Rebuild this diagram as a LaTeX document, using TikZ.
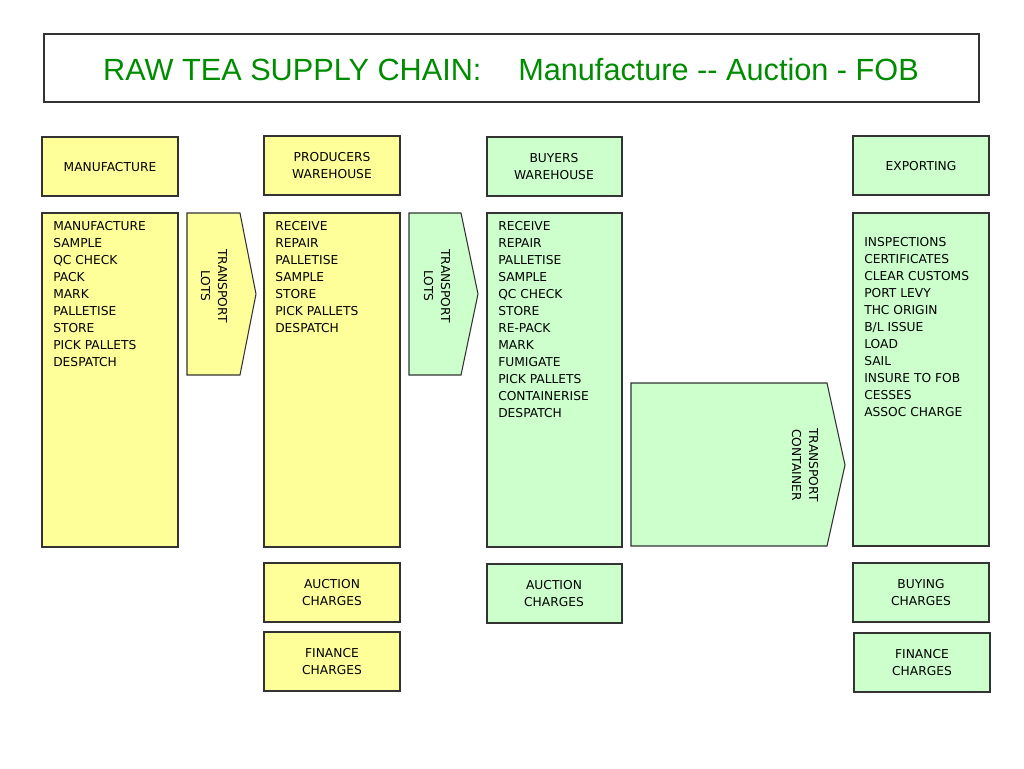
\documentclass[tikz,border=0pt]{standalone}
\usepackage{fontspec}
\setmainfont{DejaVu Sans}
\newfontfamily\titlefont{Liberation Sans}
\begin{document}
\begin{tikzpicture}[x=0.75pt,y=-0.75pt,
  box/.style={draw=black!80,line width=0.8pt},
  yel/.style={box,fill={rgb,255:red,255;green,255;blue,153}},
  grn/.style={box,fill={rgb,255:red,204;green,255;blue,204}},
  lbl/.style={font=\fontsize{9.2}{12.75}\selectfont,align=center,inner sep=0pt},
  lst/.style={font=\fontsize{9.2}{12.75}\selectfont,align=left,anchor=north west,inner sep=0pt}]
\useasboundingbox (0,0) rectangle (1024,768);
\draw[box] (44,34) rectangle (979,102);
\node[font=\titlefont\fontsize{23}{26}\selectfont,text={rgb,255:red,0;green,140;blue,0}] (title) at (511,70) {RAW TEA SUPPLY CHAIN:\hspace{1.2em}Manufacture -- Auction - FOB};
% column 1
\draw[yel] (42,137) rectangle (178,196); \node[lbl] (h1) at (110,167) {MANUFACTURE};
\draw[yel] (42,213) rectangle (178,547);
\node[lst] (l1) at (53,221) {MANUFACTURE\\SAMPLE\\QC CHECK\\PACK\\MARK\\PALLETISE\\STORE\\PICK PALLETS\\DESPATCH};
\draw[yel] (187,213) -- (240,213) -- (256,294) -- (240,375) -- (187,375) -- cycle;
\node[lbl,rotate=-90] (t1) at (214,286) {TRANSPORT\\LOTS};
% column 2
\draw[yel] (264,136) rectangle (400,195); \node[lbl] (h2) at (332,166) {PRODUCERS\\WAREHOUSE};
\draw[yel] (264,213) rectangle (400,547);
\node[lst] (l2) at (275,221) {RECEIVE\\REPAIR\\PALLETISE\\SAMPLE\\STORE\\PICK PALLETS\\DESPATCH};
\draw[yel] (264,563) rectangle (400,622); \node[lbl] (a2) at (332,593) {AUCTION\\CHARGES};
\draw[yel] (264,632) rectangle (400,691); \node[lbl] (f2) at (332,662) {FINANCE\\CHARGES};
\draw[grn] (409,213) -- (461,213) -- (478,294) -- (461,375) -- (409,375) -- cycle;
\node[lbl,rotate=-90] (t2) at (437,286) {TRANSPORT\\LOTS};
% column 3
\draw[grn] (487,137) rectangle (622,196); \node[lbl] (h3) at (554,167) {BUYERS\\WAREHOUSE};
\draw[grn] (487,213) rectangle (622,547);
\node[lst] (l3) at (498,221) {RECEIVE\\REPAIR\\PALLETISE\\SAMPLE\\QC CHECK\\STORE\\RE-PACK\\MARK\\FUMIGATE\\PICK PALLETS\\CONTAINERISE\\DESPATCH};
\draw[grn] (487,564) rectangle (622,623); \node[lbl] (a3) at (554,594) {AUCTION\\CHARGES};
\draw[grn] (631,383) -- (827,383) -- (845,465) -- (827,546) -- (631,546) -- cycle;
\node[lbl,rotate=-90] (t3) at (805,465) {TRANSPORT\\CONTAINER};
% column 4
\draw[grn] (853,136) rectangle (989,195); \node[lbl] (h4) at (921,166) {EXPORTING};
\draw[grn] (853,213) rectangle (989,546);
\node[lst] (l4) at (864,237) {INSPECTIONS\\CERTIFICATES\\CLEAR CUSTOMS\\PORT LEVY\\THC ORIGIN\\B/L ISSUE\\LOAD\\SAIL\\INSURE TO FOB\\CESSES\\ASSOC CHARGE};
\draw[grn] (853,563) rectangle (989,622); \node[lbl] (b4) at (921,593) {BUYING\\CHARGES};
\draw[grn] (854,633) rectangle (990,692); \node[lbl] (f4) at (922,663) {FINANCE\\CHARGES};
\end{tikzpicture}
\end{document}
